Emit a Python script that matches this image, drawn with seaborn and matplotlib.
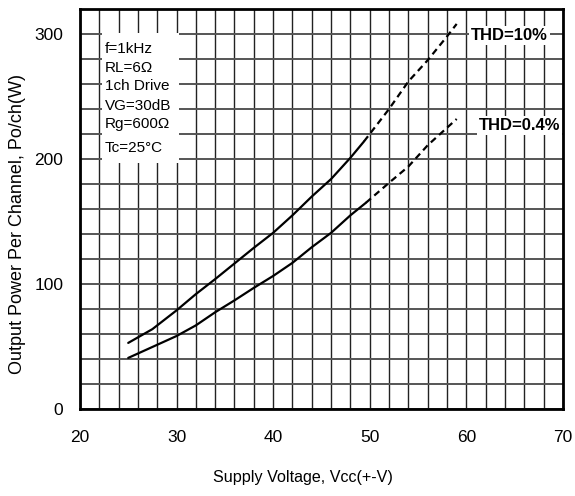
#%% IMPORTS
import matplotlib
matplotlib.use("Agg")
from matplotlib import pyplot as plt
from matplotlib.patches import Rectangle
from matplotlib.ticker import MultipleLocator
import pandas as pd
import seaborn as sns

#%% DATA
# THD = 10 % curve (solid measured part, dashed extrapolated part)
vcc_10_solid = [25, 27.5, 30, 32, 34, 36, 38, 40, 42, 44, 46, 48, 49.4]
po_10_solid = [53, 64, 79, 92, 104, 116.5, 129, 141, 155, 170, 184, 201, 214]
vcc_10_dash = [49.4, 52, 54, 56, 58, 59]
po_10_dash = [214, 240, 262, 279, 298, 308]

# THD = 0.4 % curve
vcc_04_solid = [25, 28, 30, 32, 34, 36, 38, 40, 42, 44, 46, 48, 49.6]
po_04_solid = [41, 51.5, 58.5, 67, 77.5, 87, 97, 106.5, 117, 129.5, 141, 155, 165]
vcc_04_dash = [49.6, 52, 54, 56, 58, 59]
po_04_dash = [165, 181, 194, 211, 225, 232]

conditions = ["f=1kHz", "RL=6\u03a9", "1ch Drive", "VG=30dB", "Rg=600\u03a9", "Tc=25\u00b0C"]
curve_labels = ["THD=10%", "THD=0.4%"]

x_ticks = [20, 30, 40, 50, 60, 70]
y_ticks = [0, 100, 200, 300]

#%% PLOT
sns.set_style("white")
plt.rcParams["font.family"] = ["Liberation Sans", "DejaVu Sans"]
plt.rcParams["text.color"] = "black"
plt.rcParams["axes.labelcolor"] = "black"

fig = plt.figure(figsize=(5.75, 4.96), dpi=100)
ax = fig.add_axes([0.139, 0.175, 0.840, 0.807])

segments = [
    (vcc_10_solid, po_10_solid, "-"),
    (vcc_10_dash, po_10_dash, (0, (3, 2))),
    (vcc_04_solid, po_04_solid, "-"),
    (vcc_04_dash, po_04_dash, (0, (3, 2))),
]
for xs, ys, ls in segments:
    df = pd.DataFrame({"Vcc": xs, "Po": ys})
    sns.lineplot(data=df, x="Vcc", y="Po", ax=ax, color="black",
                 linewidth=1.6, linestyle=ls, zorder=4)

ax.set_xlim(20, 70)
ax.set_ylim(0, 320)
ax.set_xticks(x_ticks)
ax.set_yticks(y_ticks)
ax.xaxis.set_minor_locator(MultipleLocator(2))
ax.yaxis.set_minor_locator(MultipleLocator(20))
ax.grid(True, which="both", axis="x", color="#222222", linewidth=1.0)
ax.grid(True, which="both", axis="y", color="#555555", linewidth=1.4)
ax.set_axisbelow(True)
ax.tick_params(which="both", length=0, labelsize=12.5, colors="black")
ax.tick_params(axis="x", pad=15)
ax.tick_params(axis="y", pad=12)
for sp in ax.spines.values():
    sp.set_color("black")
    sp.set_linewidth(2)

ax.set_xlabel("Supply Voltage, Vcc(+-V)", fontsize=11.6, color="black")
ax.set_ylabel("Output Power Per Channel, Po/ch(W)", fontsize=13, color="black")
ax.xaxis.set_label_coords(0.462, -0.152)
ax.yaxis.set_label_coords(-0.112, 0.4625)

# condition box
ax.add_patch(Rectangle((22.3, 197), 8.0, 104, facecolor="white",
                       edgecolor="none", zorder=2))
cond_y = [288, 272.8, 258.4, 242.4, 228, 208.8]
for txt, yy in zip(conditions, cond_y):
    ax.text(22.6, yy, txt, fontsize=11, ha="left", va="center", zorder=3,
            color="black")

# curve labels
for txt, (xx, yy) in zip(curve_labels, [(64.5, 299), (65.5, 227)]):
    ax.text(xx, yy, txt, fontsize=12, fontweight="bold", ha="center",
            va="center", zorder=5, color="black",
            bbox=dict(facecolor="white", edgecolor="none", pad=1.5))

fig.savefig("out.png", dpi=100)
